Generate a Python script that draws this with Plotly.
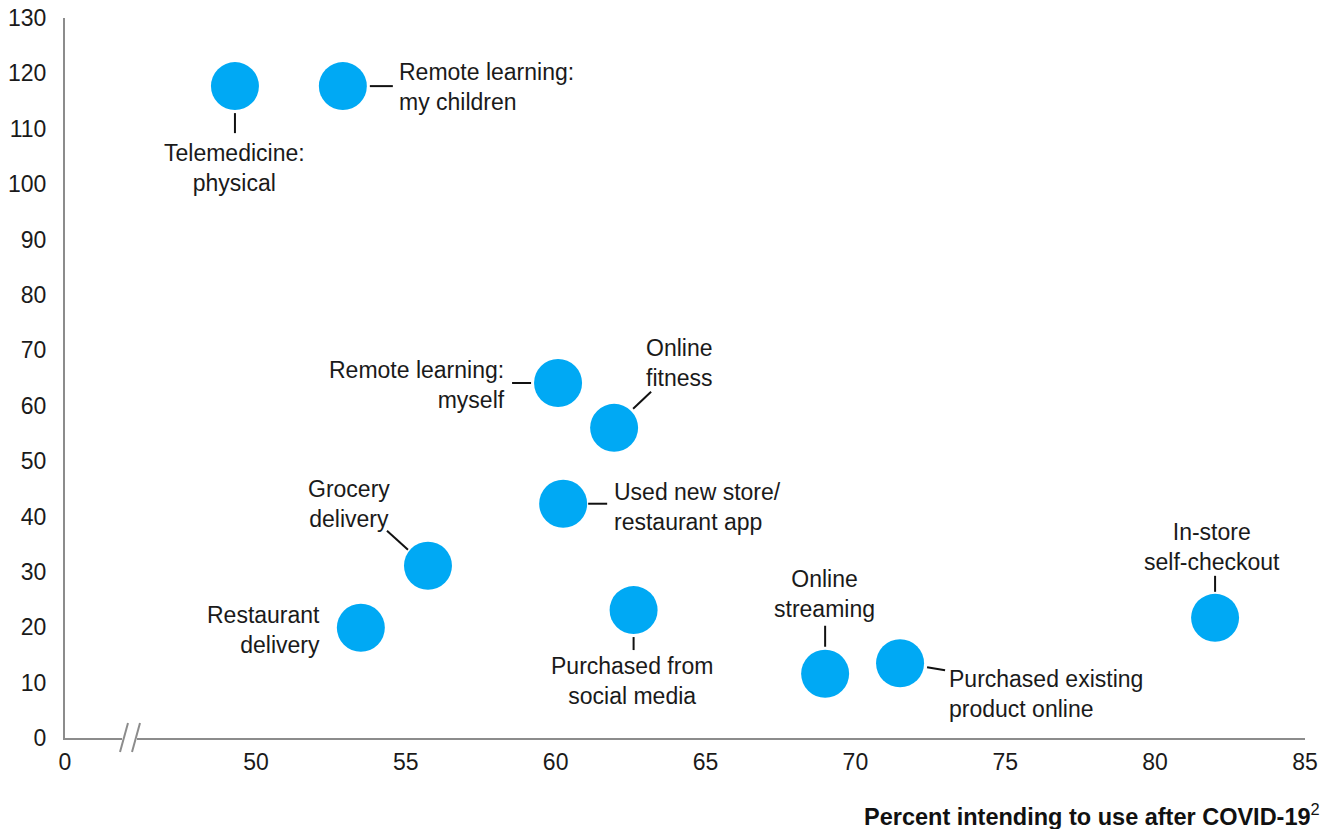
import plotly.graph_objects as go

# ---------------- data ----------------
labels = [
    "Telemedicine:<br>physical",
    "Remote learning:<br>my children",
    "Remote learning:<br>myself",
    "Online<br>fitness",
    "Used new store/<br>restaurant app",
    "Grocery<br>delivery",
    "Restaurant<br>delivery",
    "Purchased from<br>social media",
    "Online<br>streaming",
    "Purchased existing<br>product online",
    "In-store<br>self-checkout",
]
intend_after = [49.3, 52.9, 60.08, 61.95, 60.25, 55.74, 53.5, 62.6, 68.99, 71.49, 82.0]
growth = [117.7, 117.7, 64.1, 56.0, 42.3, 31.1, 19.9, 23.1, 11.6, 13.5, 21.7]

x_tick_values = [50, 55, 60, 65, 70, 75, 80, 85]
y_tick_values = list(range(0, 131, 10))
x_axis_start = 43.63  # broken axis: left edge is labelled "0"
x_axis_end = 85
x_title = "<b>Percent intending to use after COVID-19</b><sup>2</sup>"

# label placement: (text dx, text dy, xanchor, leader line (x0,y0,x1,y1) or None) in pixels, dy downward
label_layout = [
    (0, 82, "center", (0, 27, 0, 47)),
    (54, 1, "left", (27, 0, 50, 0)),
    (-51, 2, "right", (-46, 0, -27, 0)),
    (30, -65, "left", (19, -19, 37, -36)),
    (49, 3, "left", (25, 0, 44, 0)),
    (-79, -62, "center", (-20, -16, -41, -35)),
    (-39, 2, "right", None),
    (-2, 71, "center", (0, 27, 0, 40)),
    (-1, -80, "center", (0, -48, 0, -27)),
    (47, 31, "left", (27, 4, 45, 7)),
    (-3, -71, "center", (0, -42, 0, -26)),
]

FONT = "Liberation Sans, Arial, sans-serif"
AXIS_COLOR = "#8c8c8c"
DOT_COLOR = "#00A9F4"
TEXT_COLOR = "#1a1a1a"

fig = go.Figure()
fig.add_trace(go.Scatter(
    x=intend_after, y=growth, mode="markers",
    marker=dict(size=48, color=DOT_COLOR, line=dict(width=0)),
    cliponaxis=False, hoverinfo="skip", showlegend=False,
))

annotations = []
shapes = []
for xv, yv, text, (dx, dy, anchor, line) in zip(intend_after, growth, labels, label_layout):
    annotations.append(dict(
        x=xv, y=yv, xref="x", yref="y", text=text, showarrow=False,
        xanchor=anchor, yanchor="middle", align=anchor,
        xshift=dx, yshift=-dy,
        font=dict(family=FONT, size=23, color=TEXT_COLOR),
    ))
    if line is not None:
        x0, y0, x1, y1 = line
        shapes.append(dict(
            type="line", xref="x", yref="y", xsizemode="pixel", ysizemode="pixel",
            xanchor=xv, yanchor=yv, x0=x0, x1=x1, y0=-y0, y1=-y1,
            line=dict(color="#111111", width=2),
        ))

# axis break on x axis
shapes.append(dict(type="line", xref="paper", yref="paper", xsizemode="pixel", ysizemode="pixel",
                   xanchor=0, yanchor=0, x0=57, x1=72, y0=0, y1=0,
                   line=dict(color="white", width=5)))
for off in (0, 12):
    shapes.append(dict(type="line", xref="paper", yref="paper", xsizemode="pixel", ysizemode="pixel",
                       xanchor=0, yanchor=0, x0=55 + off, x1=63 + off, y0=-14, y1=15,
                       line=dict(color=AXIS_COLOR, width=2)))

annotations.append(dict(
    x=1, y=0, xref="paper", yref="paper", text=x_title, showarrow=False,
    xanchor="right", yanchor="middle", xshift=17, yshift=-77,
    font=dict(family=FONT, size=23.5, color="#111111"),
))

# page body has an 8px margin; compensate so the plot area lands where the reference has it
fig.update_layout(
    width=1322, height=821,
    margin=dict(l=57, r=25, t=10, b=91, autoexpand=False),
    paper_bgcolor="white", plot_bgcolor="white",
    font=dict(family=FONT, size=23, color=TEXT_COLOR),
    showlegend=False,
    annotations=annotations,
    shapes=shapes,
    xaxis=dict(
        range=[x_axis_start, x_axis_end],
        tickmode="array",
        tickvals=[x_axis_start] + x_tick_values,
        ticktext=["0"] + [str(v) for v in x_tick_values],
        showgrid=False, zeroline=False, automargin=False,
        showline=True, linecolor=AXIS_COLOR, linewidth=2,
        ticks="", ticklabelstandoff=2, ticklabeloverflow="allow",
        tickfont=dict(family=FONT, size=23, color=TEXT_COLOR),
    ),
    yaxis=dict(
        range=[0, 130],
        tickmode="array", tickvals=y_tick_values,
        showgrid=False, zeroline=False, automargin=False,
        showline=True, linecolor=AXIS_COLOR, linewidth=2,
        ticks="", ticklabelstandoff=12, ticklabeloverflow="allow",
        tickfont=dict(family=FONT, size=23, color=TEXT_COLOR),
    ),
)

fig.write_html("out.html")
